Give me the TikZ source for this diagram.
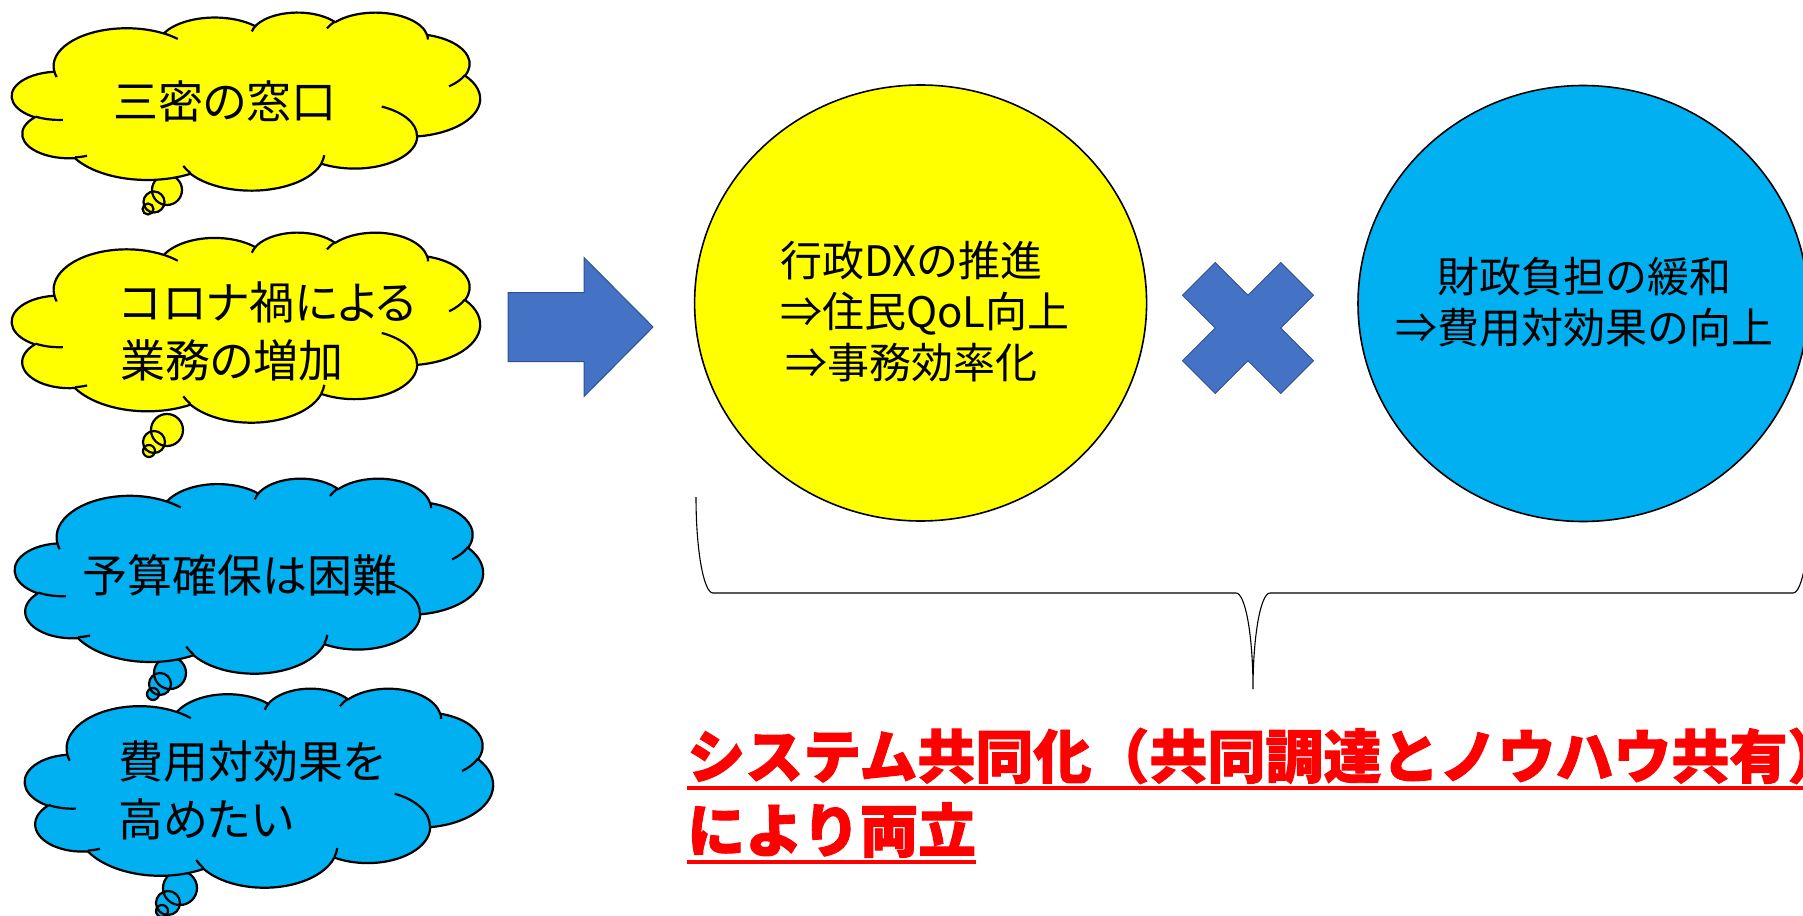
\documentclass[tikz,border=0pt]{standalone}
\usepackage{fontspec}
\usetikzlibrary{shapes.geometric}
\newfontfamily\jpf{Noto Sans CJK JP}
\newfontfamily\jpfp[RawFeature=+palt]{Noto Sans CJK JP}
\newfontfamily\jpheavy[BoldFeatures={FakeBold=1.6}]{Noto Sans CJK JP}
\definecolor{pyellow}{HTML}{FFFF00}
\definecolor{cyanfill}{HTML}{00B0F0}
\definecolor{arrowblue}{HTML}{4472C4}
\definecolor{arrowedge}{HTML}{2F528F}
\definecolor{pred}{HTML}{FF0000}
% DrawingML arcTo: wR hR stAng swAng (visual angles, degrees)
\newcommand\ooarc[4]{%
  \pgfmathsetmacro\oots{atan2((#1)*sin(#3),(#2)*cos(#3))}%
  \pgfmathsetmacro\oote{atan2((#1)*sin((#3)+(#4)),(#2)*cos((#3)+(#4)))}%
  \pgfmathsetmacro\ood{\oote-\oots}%
  \pgfmathsetmacro\ood{\ood+360*and(\ood<0,(#4)>0)-360*and(\ood>0,(#4)<0)}%
  \pgfmathsetmacro\oote{\oots+\ood}%
  \pgfpatharcaxes{\oots}{\oote}{\pgfpointxy{#1}{0}}{\pgfpointxy{0}{#2}}%
}
% cloud: x0 y0 sx sy fill
\newcommand\cloudshape[5]{%
  \begin{scope}[shift={(#1,#2)}, x=#3pt, y=-#4pt]
  \begin{pgfscope}
  \pgfsetlinewidth{2.2pt}\pgfsetfillcolor{#5}\pgfsetstrokecolor{black}\pgfsetroundjoin
  \pgfpathmoveto{\pgfpointxy{39.00}{143.70}}%
  \ooarc{67.53}{91.90}{-190.48748}{123.78053}%
  \ooarc{53.33}{72.67}{-144.10238}{89.94523}%
  \ooarc{43.65}{59.45}{-145.80792}{99.72302}%
  \ooarc{48.57}{65.95}{-130.98607}{117.24173}%
  \ooarc{53.33}{72.73}{-78.70888}{109.02692}%
  \ooarc{67.75}{92.20}{-46.26725}{130.269}%
  \ooarc{57.85}{78.67}{0.62502}{114.03333}%
  \ooarc{67.52}{92.15}{22.4516}{115.17255}%
  \ooarc{77.20}{105.43}{66.24263}{75.71102}%
  \ooarc{43.60}{59.18}{-274.94208}{146.73557}%
  \ooarc{43.45}{59.45}{-246.8285}{152.51885}%
  \pgfpathclose
  \pgfusepath{fill,stroke}
  \pgfpathmoveto{\pgfpointxy{46.93}{261.77}}\ooarc{43.45}{59.45}{86.742}{26.4295}%
  \pgfpathmoveto{\pgfpointxy{69.28}{348.99}}\ooarc{43.60}{59.18}{73.61047}{11.44747}%
  \pgfpathmoveto{\pgfpointxy{164.78}{390.90}}\ooarc{67.52}{92.15}{137.62415}{14.0811}%
  \pgfpathmoveto{\pgfpointxy{288.27}{347.51}}\ooarc{67.52}{92.15}{6.45327}{15.99835}%
  \pgfpathmoveto{\pgfpointxy{341.29}{229.54}}\ooarc{57.85}{78.67}{-70.29235}{70.91737}%
  \pgfpathmoveto{\pgfpointxy{417.98}{153.54}}\ooarc{53.33}{72.73}{30.31803}{27.7515}%
  \pgfpathmoveto{\pgfpointxy{383.24}{54.26}}\ooarc{48.57}{65.95}{-13.74433}{14.8589}%
  \pgfpathmoveto{\pgfpointxy{290.78}{39.52}}\ooarc{48.57}{65.95}{-149.18145}{18.19537}%
  \pgfpathmoveto{\pgfpointxy{221.41}{47.20}}\ooarc{43.65}{59.45}{-163.49427}{17.68635}%
  \pgfpathmoveto{\pgfpointxy{140.00}{51.92}}\ooarc{67.53}{91.90}{-66.70695}{12.31935}%
  \pgfpathmoveto{\pgfpointxy{41.27}{157.89}}\ooarc{67.53}{91.90}{157.65435}{11.85817}%
  \pgfusepath{stroke}
  \end{pgfscope}
  \end{scope}}
\tikzset{
  cloudtext/.style={font=\jpfp\fontsize{45pt}{58pt}\selectfont, align=left, inner sep=0pt, text=black},
  elltext/.style={font=\jpf\fontsize{42pt}{51pt}\selectfont, align=left, inner sep=0pt, text=black},
  bigoval/.style={ellipse, draw=black, line width=1.6pt, inner sep=0pt},
  shapeblue/.style={fill=arrowblue, draw=arrowedge, line width=1pt, line join=miter},
  bracestyle/.style={draw=black, line width=1.1pt},
  redtext/.style={font=\jpheavy\bfseries\fontsize{58pt}{70pt}\selectfont, text=pred, inner sep=0pt},
  uline/.style={draw=pred, line width=3.5pt},
  bubble/.style={draw=black, line width=2.2pt},
}
\begin{document}
\begin{tikzpicture}[x=1pt, y=-1pt]
\useasboundingbox[fill=white] (0,0) rectangle (1803,915);

% ---- cloud 1
\path[bubble, fill=pyellow] (167,190) circle[radius=15pt] (154,202) circle[radius=10.5pt] (148,209) circle[radius=5.5pt];
\cloudshape{12}{12}{1.08333}{0.41204}{pyellow}
\node[cloudtext] (c1) at (225,101) {三密の窓口};

% ---- cloud 2
\path[bubble, fill=pyellow] (167,430) circle[radius=16pt] (154,442) circle[radius=11pt] (149,451) circle[radius=6pt];
\cloudshape{12}{232}{1.08333}{0.43981}{pyellow}
\node[cloudtext, anchor=west] (c2) at (120,331) {コロナ禍による\\業務の増加};

% ---- cloud 3
\path[bubble, fill=cyanfill] (170,673) circle[radius=16pt] (160,684) circle[radius=11pt] (153,694) circle[radius=6pt];
\cloudshape{15}{478}{1.08333}{0.45139}{cyanfill}
\node[cloudtext] (c3) at (240,575) {予算確保は困難};

% ---- cloud 4
\path[bubble, fill=cyanfill] (180,888) circle[radius=17pt] (168,903) circle[radius=12pt] (162,911) circle[radius=6pt];
\cloudshape{25}{688}{1.08333}{0.46065}{cyanfill}
\node[cloudtext, anchor=west] (c4) at (118,790) {費用対効果を\\高めたい};

% ---- arrow
\path[shapeblue] (508,292.5) -- (584,292.5) -- (584,257.5) -- (653,327) -- (584,396.5) -- (584,361.5) -- (508,361.5) -- cycle;

% ---- yellow ellipse
\node[bigoval, fill=pyellow, minimum width=452pt, minimum height=436pt] (yell) at (920.6,303) {};
\node[elltext, anchor=west] (ytext) at (780,312) {行政DXの推進\\⇒住民QoL向上\\\hspace*{5pt}⇒事務効率化};

% ---- multiply sign
\path[shapeblue] (1182.5,295.25) -- (1215.25,262.5) -- (1248,295.25) -- (1280.75,262.5) -- (1313.5,295.25)
  -- (1280.75,328) -- (1313.5,360.75) -- (1280.75,393.5) -- (1248,360.75) -- (1215.25,393.5)
  -- (1182.5,360.75) -- (1215.25,328) -- cycle;

% ---- blue ellipse
\node[bigoval, fill=cyanfill, minimum width=450pt, minimum height=436pt] (bell) at (1583,303.5) {};
\node[elltext, align=center] (btext) at (1584,302.5) {財政負担の緩和\\⇒費用対効果の向上};

% ---- brace
\path[bracestyle] (696,497) .. controls (696,550) and (703.6,593) .. (713,593) -- (1236,593)
  .. controls (1245.4,593) and (1253,636) .. (1253,689)
  .. controls (1253,636) and (1260.6,593) .. (1270,593) -- (1793,593)
  .. controls (1802.4,593) and (1810,550) .. (1810,497);

% ---- conclusion
\node[redtext, anchor=base west] (r1) at (687,778) {システム共同化（共同調達とノウハウ共有）};
\node[redtext, anchor=base west] (r2) at (687,852) {により両立};
\path[uline] ([yshift=-10pt]r1.base west) -- ([yshift=-10pt]r1.base east);
\path[uline] ([yshift=-10pt]r2.base west) -- ([yshift=-10pt]r2.base east);
\end{tikzpicture}
\end{document}
